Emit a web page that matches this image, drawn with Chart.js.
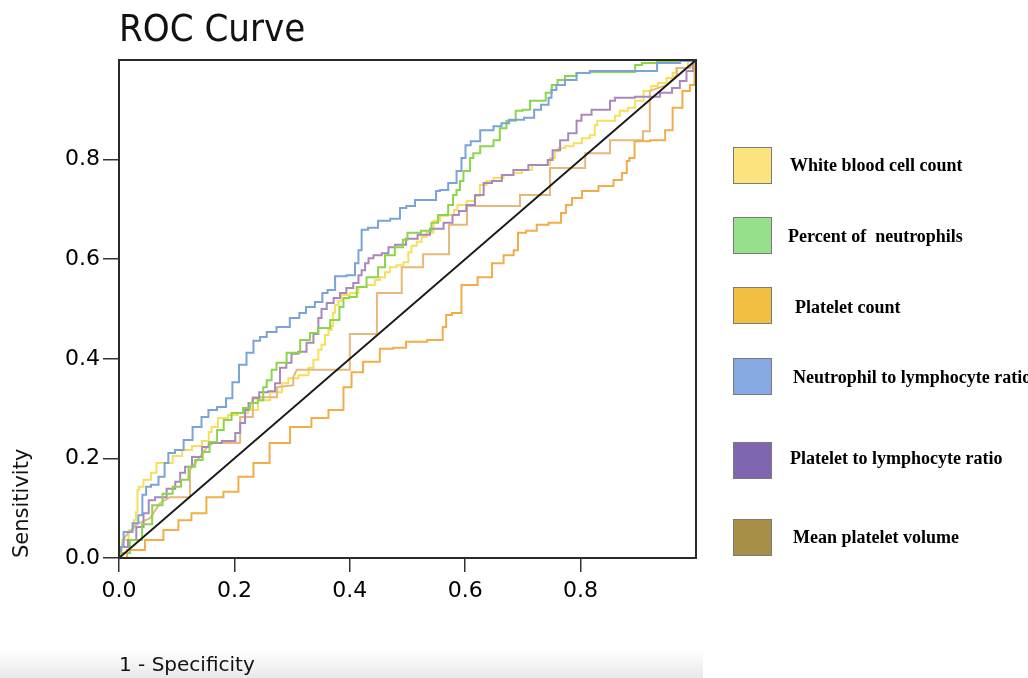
<!DOCTYPE html>
<html>
<head>
<meta charset="utf-8">
<title>ROC Curve</title>
<script src="https://cdn.jsdelivr.net/npm/chart.js@4.4.1/dist/chart.umd.min.js"></script>
<style>
  html, body { margin: 0; padding: 0; background: #fff; width: 1028px; height: 678px; overflow: hidden; }
  #bottom-band { position: absolute; left: 0; top: 650px; width: 703px; height: 28px; background: linear-gradient(#ffffff, #e8e8e8); }
  #chart-box { position: absolute; left: 0; top: 0; width: 1028px; height: 678px; }
  .swatch { position: absolute; left: 733px; width: 37px; height: 35px; border: 1px solid #7a7a7a; }
  .label { position: absolute; font: bold 18px "Liberation Serif", "Times New Roman", serif; line-height: 22px; white-space: pre; color: #000; }
</style>
</head>
<body>
<div id="bottom-band"></div>
<div id="chart-box"><canvas id="rocChart"></canvas></div>

<!-- legend -->
<div class="swatch" style="top:147px; background:#fbe47e;"></div>
<div class="label" style="left:790px; top:154px;">White blood cell count</div>
<div class="swatch" style="top:217px; background:#97e08b;"></div>
<div class="label" style="left:788px; top:225px;">Percent of  neutrophils</div>
<div class="swatch" style="top:287px; background:#f2bf43;"></div>
<div class="label" style="left:795px; top:296px;">Platelet count</div>
<div class="swatch" style="top:358px; background:#87a9e3;"></div>
<div class="label" style="left:793px; top:366px;">Neutrophil to lymphocyte ratio</div>
<div class="swatch" style="top:442px; background:#7e67b0;"></div>
<div class="label" style="left:790px; top:447px;">Platelet to lymphocyte ratio</div>
<div class="swatch" style="top:519px; background:#a88f48;"></div>
<div class="label" style="left:793px; top:526px;">Mean platelet volume</div>

<script>
// -------------------------------
// DATA (1 - specificity / sensitivity)
// -------------------------------
const WBC_FPR = [0, 0, 0.010, 0.023, 0.028, 0.031, 0.033, 0.036, 0.049, 0.062, 0.068, 0.085, 0.101, 0.118, 0.135, 0.153, 0.158, 0.163, 0.180, 0.198, 0.215, 0.232, 0.250, 0.274, 0.291, 0.296, 0.326, 0.331, 0.343, 0.348, 0.354, 0.360, 0.366, 0.371, 0.371, 0.378, 0.383, 0.388, 0.412, 0.418, 0.440, 0.447, 0.458, 0.464, 0.475, 0.487, 0.499, 0.504, 0.510, 0.522, 0.527, 0.539, 0.551, 0.562, 0.579, 0.582, 0.591, 0.614, 0.620, 0.631, 0.643, 0.655, 0.678, 0.690, 0.707, 0.724, 0.742, 0.752, 0.759, 0.764, 0.782, 0.794, 0.811, 0.821, 0.828, 0.830, 0.856, 0.863, 0.873, 0.891, 0.898, 0.920, 0.925, 0.943, 0.955, 0.964, 0.967, 0.972, 1];
const WBC_TPR = [0, 0.016, 0.036, 0.056, 0.076, 0.092, 0.137, 0.143, 0.157, 0.171, 0.191, 0.191, 0.205, 0.217, 0.225, 0.235, 0.253, 0.263, 0.281, 0.287, 0.291, 0.297, 0.317, 0.333, 0.351, 0.361, 0.367, 0.382, 0.398, 0.418, 0.428, 0.448, 0.458, 0.466, 0.492, 0.508, 0.516, 0.528, 0.532, 0.544, 0.548, 0.558, 0.564, 0.574, 0.584, 0.588, 0.594, 0.614, 0.627, 0.635, 0.645, 0.653, 0.677, 0.687, 0.689, 0.699, 0.709, 0.717, 0.727, 0.749, 0.757, 0.763, 0.769, 0.773, 0.779, 0.789, 0.789, 0.803, 0.817, 0.823, 0.827, 0.833, 0.843, 0.849, 0.869, 0.878, 0.878, 0.888, 0.898, 0.904, 0.918, 0.938, 0.948, 0.954, 0.964, 0.974, 0.984, 0.984, 1];

const NEUT_FPR = [0, 0.007, 0.031, 0.049, 0.066, 0.085, 0.101, 0.114, 0.127, 0.137, 0.153, 0.161, 0.179, 0.184, 0.206, 0.224, 0.231, 0.250, 0.250, 0.262, 0.267, 0.279, 0.302, 0.326, 0.336, 0.354, 0.378, 0.386, 0.392, 0.406, 0.418, 0.440, 0.458, 0.464, 0.492, 0.492, 0.508, 0.539, 0.544, 0.562, 0.579, 0.579, 0.591, 0.591, 0.603, 0.614, 0.614, 0.638, 0.660, 0.660, 0.683, 0.692, 0.707, 0.718, 0.735, 0.744, 0.756, 0.764, 0.782, 0.804, 0.828, 0.891, 0.898, 0.915, 0.950, 1];
const NEUT_TPR = [0, 0.010, 0.036, 0.068, 0.106, 0.129, 0.143, 0.157, 0.183, 0.197, 0.213, 0.233, 0.257, 0.277, 0.291, 0.301, 0.311, 0.317, 0.343, 0.357, 0.378, 0.392, 0.412, 0.438, 0.452, 0.462, 0.478, 0.504, 0.522, 0.524, 0.544, 0.564, 0.584, 0.608, 0.624, 0.639, 0.653, 0.657, 0.673, 0.689, 0.709, 0.729, 0.739, 0.757, 0.777, 0.803, 0.813, 0.827, 0.839, 0.863, 0.878, 0.898, 0.900, 0.918, 0.918, 0.934, 0.950, 0.960, 0.968, 0.974, 0.976, 0.976, 0.990, 0.994, 0.998, 1];

const PC_FPR = [0, 0.028, 0.062, 0.092, 0.114, 0.137, 0.166, 0.196, 0.218, 0.248, 0.274, 0.319, 0.348, 0.378, 0.400, 0.406, 0.440, 0.464, 0.487, 0.508, 0.560, 0.562, 0.572, 0.582, 0.605, 0.638, 0.655, 0.678, 0.690, 0.693, 0.718, 0.730, 0.759, 0.773, 0.776, 0.794, 0.811, 0.851, 0.863, 0.880, 0.880, 0.889, 0.898, 0.943, 0.950, 0.969, 0.984, 0.995, 1];
const PC_TPR = [0, 0.016, 0.036, 0.056, 0.076, 0.090, 0.122, 0.133, 0.163, 0.191, 0.231, 0.263, 0.281, 0.297, 0.343, 0.373, 0.394, 0.420, 0.422, 0.434, 0.438, 0.464, 0.488, 0.492, 0.548, 0.564, 0.592, 0.608, 0.618, 0.653, 0.657, 0.669, 0.673, 0.693, 0.709, 0.723, 0.737, 0.747, 0.759, 0.773, 0.797, 0.803, 0.837, 0.839, 0.859, 0.904, 0.938, 0.950, 1];

const NLR_FPR = [0, 0, 0.016, 0.031, 0.036, 0.045, 0.049, 0.062, 0.075, 0.083, 0.088, 0.106, 0.118, 0.137, 0.149, 0.161, 0.179, 0.192, 0.201, 0.215, 0.227, 0.239, 0.250, 0.262, 0.284, 0.308, 0.317, 0.331, 0.348, 0.357, 0.366, 0.383, 0.406, 0.412, 0.418, 0.423, 0.440, 0.458, 0.482, 0.492, 0.504, 0.522, 0.548, 0.551, 0.562, 0.579, 0.591, 0.596, 0.605, 0.614, 0.638, 0.660, 0.666, 0.686, 0.718, 0.721, 0.742, 0.747, 0.752, 0.764, 0.782, 0.804, 0.828, 0.915, 0.950, 0.995, 1];
const NLR_TPR = [0, 0.022, 0.052, 0.070, 0.086, 0.127, 0.143, 0.147, 0.163, 0.191, 0.211, 0.217, 0.237, 0.263, 0.283, 0.297, 0.303, 0.321, 0.353, 0.388, 0.412, 0.436, 0.444, 0.454, 0.464, 0.482, 0.492, 0.504, 0.514, 0.532, 0.538, 0.566, 0.568, 0.592, 0.618, 0.659, 0.663, 0.677, 0.681, 0.703, 0.707, 0.719, 0.719, 0.737, 0.739, 0.753, 0.777, 0.803, 0.829, 0.837, 0.859, 0.867, 0.873, 0.880, 0.884, 0.900, 0.910, 0.924, 0.940, 0.950, 0.960, 0.974, 0.978, 0.978, 0.994, 0.998, 1];

const PLR_FPR = [0, 0.007, 0.024, 0.036, 0.049, 0.054, 0.071, 0.094, 0.101, 0.111, 0.118, 0.135, 0.153, 0.158, 0.198, 0.205, 0.215, 0.222, 0.227, 0.236, 0.250, 0.267, 0.274, 0.284, 0.296, 0.302, 0.319, 0.331, 0.343, 0.348, 0.354, 0.366, 0.378, 0.388, 0.400, 0.412, 0.418, 0.423, 0.430, 0.435, 0.447, 0.464, 0.470, 0.487, 0.508, 0.527, 0.551, 0.574, 0.582, 0.596, 0.608, 0.626, 0.638, 0.655, 0.672, 0.695, 0.724, 0.742, 0.744, 0.759, 0.770, 0.787, 0.799, 0.804, 0.834, 0.846, 0.856, 0.863, 0.925, 0.950, 0.967, 0.977, 0.990, 1];
const PLR_TPR = [0, 0.022, 0.036, 0.062, 0.090, 0.116, 0.122, 0.139, 0.153, 0.171, 0.183, 0.203, 0.223, 0.231, 0.235, 0.251, 0.271, 0.297, 0.311, 0.321, 0.333, 0.335, 0.351, 0.382, 0.392, 0.410, 0.414, 0.432, 0.450, 0.482, 0.500, 0.512, 0.522, 0.532, 0.542, 0.552, 0.568, 0.578, 0.592, 0.602, 0.608, 0.612, 0.624, 0.629, 0.641, 0.649, 0.661, 0.673, 0.689, 0.697, 0.709, 0.729, 0.753, 0.757, 0.769, 0.779, 0.789, 0.789, 0.799, 0.819, 0.839, 0.853, 0.878, 0.890, 0.900, 0.900, 0.918, 0.924, 0.926, 0.934, 0.944, 0.958, 0.978, 1];

const MPV_FPR = [0, 0.002, 0.010, 0.031, 0.054, 0.071, 0.088, 0.123, 0.123, 0.153, 0.163, 0.210, 0.210, 0.232, 0.232, 0.274, 0.274, 0.302, 0.302, 0.308, 0.400, 0.400, 0.447, 0.447, 0.490, 0.490, 0.527, 0.527, 0.572, 0.572, 0.603, 0.603, 0.695, 0.695, 0.747, 0.747, 0.808, 0.808, 0.851, 0.851, 0.908, 0.908, 0.920, 0.920, 0.950, 0.967, 0.967, 0.990, 1];
const MPV_TPR = [0, 0.010, 0.042, 0.068, 0.080, 0.110, 0.122, 0.122, 0.177, 0.223, 0.231, 0.231, 0.283, 0.283, 0.323, 0.323, 0.343, 0.347, 0.363, 0.378, 0.378, 0.450, 0.450, 0.532, 0.532, 0.584, 0.584, 0.610, 0.610, 0.669, 0.669, 0.707, 0.707, 0.729, 0.729, 0.783, 0.783, 0.813, 0.813, 0.839, 0.839, 0.857, 0.857, 0.938, 0.950, 0.970, 0.984, 0.984, 1];

const REF_FPR = [0, 1];
const REF_TPR = [0, 1];

const TICK_FONT = "'DejaVu Sans', Verdana, sans-serif";
const TITLE_FONT = "'DejaVu Sans Condensed', 'DejaVu Sans', Tahoma, sans-serif";

// points {x, y} from two arrays
function toPoints(xs, ys) {
  const n = Math.min(xs.length, ys.length);
  const pts = [];
  for (let i = 0; i < n; i++) pts.push({ x: xs[i], y: ys[i] });
  return pts;
}

function curve(label, xs, ys, color, order, stepped) {
  return {
    label: label,
    data: toPoints(xs, ys),
    borderColor: color,
    backgroundColor: color,
    borderWidth: 2,
    pointRadius: 0,
    tension: 0,
    stepped: stepped,
    fill: false,
    order: order
  };
}

// cadre autour de la zone du graphique
const framePlugin = {
  id: 'frame',
  afterDatasetsDraw(chart) {
    const { ctx, chartArea } = chart;
    ctx.save();
    ctx.strokeStyle = '#2a2a2a';
    ctx.lineWidth = 2;
    ctx.strokeRect(chartArea.left, chartArea.top, chartArea.right - chartArea.left, chartArea.bottom - chartArea.top);
    ctx.restore();
  }
};

// -------------------------------
// GRAPHIQUE
// -------------------------------
const ctx = document.getElementById('rocChart').getContext('2d');

new Chart(ctx, {
  type: 'line',
  data: {
    datasets: [
      curve('Reference line', REF_FPR, REF_TPR, '#1a1a1a', 0, false),
      curve('White blood cell count', WBC_FPR, WBC_TPR, '#f5df5c', 6, 'middle'),
      curve('Percent of neutrophils', NEUT_FPR, NEUT_TPR, '#8ad64a', 3, 'middle'),
      curve('Platelet count', PC_FPR, PC_TPR, '#f1ad48', 1, 'middle'),
      curve('Neutrophil to lymphocyte ratio', NLR_FPR, NLR_TPR, '#7aa3d8', 2, 'middle'),
      curve('Platelet to lymphocyte ratio', PLR_FPR, PLR_TPR, '#a888bd', 4, 'middle'),
      curve('Mean platelet volume', MPV_FPR, MPV_TPR, '#e6b87c', 5, false)
    ]
  },
  options: {
    responsive: true,
    maintainAspectRatio: false,
    animation: false,
    layout: { padding: { left: 0, right: 332, top: 0, bottom: 0 } },
    scales: {
      x: {
        type: 'linear',
        min: 0,
        max: 1,
        afterBuildTicks: s => { s.ticks = s.ticks.filter(t => t.value < 0.99); },
        afterFit: s => { s.height = 120; },
        ticks: {
          stepSize: 0.2,
          color: '#000',
          padding: 6,
          font: { family: TICK_FONT, size: 22 },
          callback: v => Number(v).toFixed(1)
        },
        grid: { display: true, drawOnChartArea: false, drawTicks: true, tickLength: 14, color: '#333', lineWidth: 1.5 },
        border: { display: true, color: '#2a2a2a', width: 2 },
        title: {
          display: true,
          text: '1 - Specificity',
          align: 'start',
          color: '#111',
          font: { family: TICK_FONT, size: 20 },
          padding: { top: 0, bottom: 0 }
        }
      },
      y: {
        type: 'linear',
        min: 0,
        max: 1,
        afterBuildTicks: s => { s.ticks = s.ticks.filter(t => t.value < 0.99); },
        afterFit: s => { s.width = 119; },
        ticks: {
          stepSize: 0.2,
          color: '#000',
          padding: 3,
          font: { family: TICK_FONT, size: 22 },
          callback: v => Number(v).toFixed(1)
        },
        grid: { display: true, drawOnChartArea: false, drawTicks: true, tickLength: 16, color: '#333', lineWidth: 1.5 },
        border: { display: true, color: '#2a2a2a', width: 2 },
        title: {
          display: true,
          text: 'Sensitivity',
          align: 'start',
          color: '#111',
          font: { family: TICK_FONT, size: 21 },
          padding: { top: 10, bottom: 0 }
        }
      }
    },
    plugins: {
      legend: { display: false },
      tooltip: { enabled: false },
      title: {
        display: true,
        text: 'ROC Curve',
        align: 'start',
        fullSize: false,
        color: '#111',
        font: { family: TITLE_FONT, size: 38, weight: 'normal' },
        padding: { top: 8, bottom: 6.4 }
      }
    }
  },
  plugins: [framePlugin]
});
</script>
</body>
</html>
